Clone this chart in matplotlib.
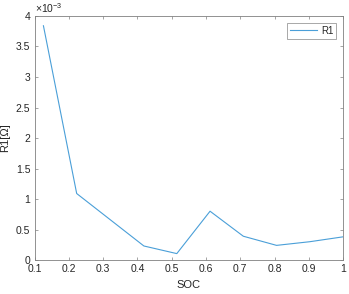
import matplotlib
matplotlib.use("Agg")
import matplotlib.pyplot as plt

plt.rcParams['font.family'] = ['Liberation Sans', 'DejaVu Sans']
plt.rcParams['mathtext.fontset'] = 'custom'
plt.rcParams['mathtext.rm'] = 'Liberation Sans'

soc = [0.126, 0.223, 0.419, 0.515, 0.612, 0.709, 0.806, 0.903, 1.0]
r1 = [3.84e-3, 1.09e-3, 0.23e-3, 0.105e-3, 0.80e-3, 0.39e-3, 0.24e-3, 0.30e-3, 0.38e-3]
xticks = [0.1, 0.2, 0.3, 0.4, 0.5, 0.6, 0.7, 0.8, 0.9, 1.0]
xticklabels = ['0.1', '0.2', '0.3', '0.4', '0.5', '0.6', '0.7', '0.8', '0.9', '1']
yticks = [0, 0.5e-3, 1e-3, 1.5e-3, 2e-3, 2.5e-3, 3e-3, 3.5e-3, 4e-3]
yticklabels = ['0', '0.5', '1', '1.5', '2', '2.5', '3', '3.5', '4']

fig = plt.figure(figsize=(3.49, 2.94), dpi=100)
ax = fig.add_axes([0.0989, 0.1156, 0.8841, 0.83])
ax.plot(soc, r1, color='#4a9fd8', lw=0.8, label='R1')
ax.set_xlim(0.1, 1.0)
ax.set_ylim(0, 4e-3)
ax.set_xticks(xticks)
ax.set_xticklabels(xticklabels)
ax.set_yticks(yticks)
ax.set_yticklabels(yticklabels)
grey = '#262626'
for s in ax.spines.values():
    s.set_color('#808080')
    s.set_linewidth(0.6)
ax.tick_params(direction='in', length=2.5, width=0.5, color='#808080', labelsize=7.5,
               labelcolor=grey, top=True, right=True, pad=3)
ax.set_xlabel('SOC', fontsize=8, color=grey, labelpad=4)
ax.set_ylabel('R1[Ω]', fontsize=8, color=grey, labelpad=4)
ax.text(0.0, 1.005, r'$\times 10^{-3}$', transform=ax.transAxes, fontsize=7.5,
        color=grey, ha='left', va='bottom')
leg = ax.legend(loc='upper right', fontsize=7, frameon=True, fancybox=False,
                borderpad=0.3, handlelength=2.8, handletextpad=0.4,
                borderaxespad=0.7)
leg.get_frame().set_edgecolor('#808080')
leg.get_frame().set_linewidth(0.6)
for t in leg.get_texts():
    t.set_color(grey)
fig.savefig('out.png', dpi=100)
